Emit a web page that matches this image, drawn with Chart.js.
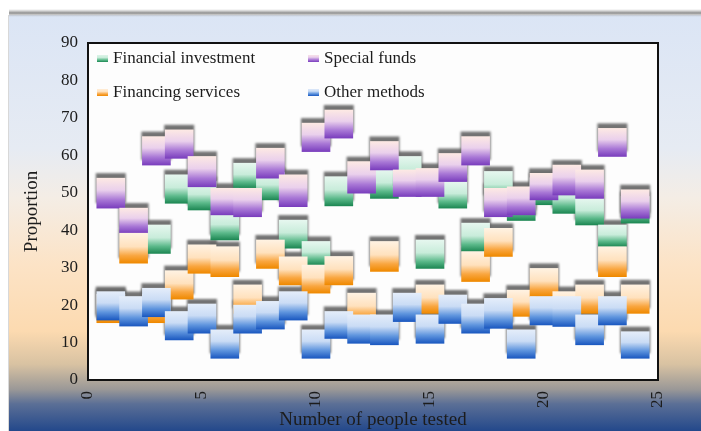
<!DOCTYPE html>
<html>
<head>
<meta charset="utf-8">
<script src="https://cdn.jsdelivr.net/npm/chart.js@4.4.1/dist/chart.umd.min.js"></script>
<style>
  html, body { margin: 0; padding: 0; background: #fff; }
</style>
</head>
<body>
<canvas id="myChart" width="701" height="431"></canvas>
<script>
// number of people tested (x positions of the boxes)
var peopleTested = [1, 2, 3, 4, 5, 6, 7, 8, 9, 10, 11, 12, 13, 14, 15, 16, 17, 18, 19, 20, 21, 22, 23, 24];

// each box is [low, high] proportion, null = no box at that point
var financialInvestment = [
    null, null, [33.8, 41.4], [47.2, 54.8], [45.4, 53.0], [37.4, 44.9],
    [51.2, 57.9], [48.1, 55.4], [35.2, 42.7], [30.7, 37.0], [46.5, 54.3], null,
    [48.5, 56.1], [52.0, 59.7], [29.8, 37.4], [45.9, 53.0], [34.3, 41.9], [48.0, 55.7],
    [42.6, 50.0], [46.8, 54.0], [44.5, 52.0], [41.4, 48.5], [35.6, 41.4], [41.9, 49.0]
];
var specialFunds = [
    [45.9, 53.9], [39.2, 45.9], [57.4, 65.0], [59.2, 66.8], [51.6, 59.7], [44.1, 51.2],
    [43.6, 51.2], [53.9, 61.9], [46.3, 54.8], [61.0, 68.6], [64.6, 72.1], [49.9, 58.3],
    [56.1, 63.7], [49.0, 56.1], [49.0, 56.5], [53.0, 60.5], [57.4, 65.0], [43.6, 51.2],
    [44.1, 51.6], [48.1, 55.2], [49.4, 57.4], [48.5, 56.1], [59.7, 67.2], [43.2, 50.8]
];
var financingServices = [
    [15.3, 22.9], [31.2, 39.2], [15.3, 22.9], [21.6, 29.2], [28.5, 36.1], [27.6, 35.6],
    [17.8, 25.4], [29.8, 37.4], [25.4, 32.9], [23.2, 30.7], [25.4, 33.0], [15.5, 23.2],
    [29.0, 37.0], null, [17.8, 25.4], null, [26.3, 34.3], [33.0, 40.5],
    [17.0, 24.0], [22.3, 29.8], [16.0, 23.6], [17.8, 25.4], [27.6, 35.6], [17.8, 25.4]
];
var otherMethods = [
    [16.0, 23.6], [14.4, 22.3], [16.9, 24.5], [10.7, 18.3], [12.5, 20.3], [5.8, 13.4],
    [12.5, 20.0], [13.6, 21.0], [16.0, 23.6], [5.8, 13.4], [11.1, 18.3], [9.8, 17.4],
    [9.4, 17.4], [15.6, 23.2], [9.8, 17.4], [15.1, 22.7], [12.5, 20.3], [13.8, 21.8],
    [5.8, 13.4], [14.7, 22.3], [14.3, 22.3], [9.4, 17.4], [14.7, 22.3], [5.8, 12.9]
];

var yTicks = [0, 10, 20, 30, 40, 50, 60, 70, 80, 90];
var xTicks = [0, 5, 10, 15, 20, 25];

// vertical colour ramps, pale at the top and saturated at the bottom
var greenStops  = [[0, '#e6f7ef'], [0.45, '#c8ecda'], [0.75, '#5bb98a'], [1, '#1d8753']];
var purpleStops = [[0, '#fde9e4'], [0.4, '#ead0ec'], [0.72, '#a978d6'], [1, '#7a3ebd']];
var orangeStops = [[0, '#fff2e2'], [0.45, '#ffe1bd'], [0.75, '#f9a640'], [1, '#ef8900']];
var blueStops   = [[0, '#e4edfa'], [0.4, '#cadcf5'], [0.72, '#5f95de'], [1, '#1b58c0']];

var serif = '"Liberation Serif", "Times New Roman", serif';
var textColor = '#1c1c1c';

function toPoints(values) {
    var pts = [];
    for (var i = 0; i < values.length; i++) {
        if (values[i] != null) pts.push({ x: peopleTested[i], y: values[i] });
    }
    return pts;
}

function boxFill(stops) {
    return function(c) {
        var chart = c.chart;
        var v = c.raw && c.raw.y;
        if (!chart.chartArea || !v) return stops[2][1];
        var top = chart.scales.y.getPixelForValue(Math.max(v[0], v[1]));
        var bot = chart.scales.y.getPixelForValue(Math.min(v[0], v[1]));
        var g = chart.ctx.createLinearGradient(0, top, 0, bot);
        stops.forEach(function(s) { g.addColorStop(s[0], s[1]); });
        return g;
    };
}

// page background, plot fill
var backdrop = {
    id: 'backdrop',
    beforeDraw: function(chart) {
        var ctx = chart.ctx, w = chart.width, h = chart.height, a = chart.chartArea;
        ctx.save();
        ctx.fillStyle = '#ffffff';
        ctx.fillRect(0, 0, w, h);
        var g = ctx.createLinearGradient(0, 15, 0, h);
        g.addColorStop(0, '#dbe5f5');
        g.addColorStop(0.32, '#e6ebf3');
        g.addColorStop(0.44, '#f4ede5');
        g.addColorStop(0.6, '#fce3c6');
        g.addColorStop(0.76, '#fcdab0');
        g.addColorStop(0.84, '#d8c2a2');
        g.addColorStop(0.9, '#9a9897');
        g.addColorStop(0.935, '#5b6f96');
        g.addColorStop(1, '#23488b');
        ctx.fillStyle = g;
        ctx.fillRect(9, 15, w - 9, h - 15);
        // soft grey edge along the top
        var t = ctx.createLinearGradient(0, 9, 0, 17);
        t.addColorStop(0, 'rgba(160,160,160,0)');
        t.addColorStop(0.5, 'rgba(130,130,130,0.9)');
        t.addColorStop(1, 'rgba(180,180,180,0)');
        ctx.fillStyle = t;
        ctx.fillRect(9, 9, w - 9, 8);
        ctx.fillStyle = 'rgba(190,190,190,0.6)';
        ctx.fillRect(8, 15, 1, h - 15);
        ctx.fillStyle = '#fdfdfd';
        ctx.fillRect(a.left, a.top, a.right - a.left, a.bottom - a.top);
        ctx.restore();
    }
};

// blurred grey shadow sitting just above every box
var boxShadows = {
    id: 'boxShadows',
    beforeDatasetsDraw: function(chart) {
        var ctx = chart.ctx;
        ctx.save();
        ctx.filter = 'blur(1.2px)';
        ctx.fillStyle = 'rgba(100,100,100,0.9)';
        chart.data.datasets.forEach(function(ds, i) {
            var meta = chart.getDatasetMeta(i);
            meta.data.forEach(function(bar) {
                var top = Math.min(bar.y, bar.base);
                var bot = Math.max(bar.y, bar.base);
                ctx.fillRect(bar.x - bar.width / 2 - 1, top - 5, bar.width + 2, bot - top);
            });
        });
        ctx.restore();
    }
};

// frame round the plot and the two-column key inside it
var frameAndKey = {
    id: 'frameAndKey',
    afterDatasetsDraw: function(chart) {
        var ctx = chart.ctx, a = chart.chartArea;
        ctx.save();
        ctx.strokeStyle = '#111';
        ctx.lineWidth = 2;
        ctx.strokeRect(a.left, a.top, a.right - a.left, a.bottom - a.top);

        ctx.font = '17px ' + serif;
        ctx.fillStyle = textColor;
        ctx.textBaseline = 'middle';
        var cols = [9, 220], rows = [15, 49];
        chart.data.datasets.forEach(function(ds, i) {
            var x = a.left + cols[i % 2];
            var y = a.top + rows[Math.floor(i / 2)];
            var g = ctx.createLinearGradient(0, y - 4, 0, y + 4);
            ds.keyStops.forEach(function(s) { g.addColorStop(s[0], s[1]); });
            ctx.fillStyle = g;
            ctx.fillRect(x, y - 3, 11, 7);
            ctx.fillStyle = textColor;
            ctx.fillText(ds.label, x + 16, y + 1);
        });
        ctx.restore();
    }
};

var ctx = document.getElementById('myChart');
var myChart = new Chart(ctx, {
    type: 'bar',
    data: {
        datasets: [
            { label: 'Financial investment', data: toPoints(financialInvestment), backgroundColor: boxFill(greenStops), keyStops: greenStops, order: 4 },
            { label: 'Special funds', data: toPoints(specialFunds), backgroundColor: boxFill(purpleStops), keyStops: purpleStops, order: 3 },
            { label: 'Financing services', data: toPoints(financingServices), backgroundColor: boxFill(orangeStops), keyStops: orangeStops, order: 2 },
            { label: 'Other methods', data: toPoints(otherMethods), backgroundColor: boxFill(blueStops), keyStops: blueStops, order: 1 }
        ]
    },
    options: {
        responsive: false,
        animation: false,
        layout: { padding: { left: 18, right: 43, top: 43, bottom: 0 } },
        datasets: { bar: { grouped: false, barThickness: 28, borderWidth: 0 } },
        plugins: { legend: { display: false }, tooltip: { enabled: false } },
        scales: {
            x: {
                type: 'linear',
                min: xTicks[0],
                max: xTicks[xTicks.length - 1],
                offset: false,
                grid: { display: false, drawTicks: false },
                border: { display: false },
                afterBuildTicks: function(s) { s.ticks = xTicks.map(function(v) { return { value: v }; }); },
                ticks: { minRotation: 90, maxRotation: 90, padding: 11, color: textColor, font: { family: serif, size: 17 } },
                title: { display: true, text: 'Number of people tested', color: textColor, font: { family: serif, size: 19 }, padding: { top: 0, bottom: 0 } },
                afterFit: function(s) { s.height = 51; }
            },
            y: {
                min: yTicks[0],
                max: yTicks[yTicks.length - 1],
                grid: { display: false, drawTicks: false },
                border: { display: false },
                afterBuildTicks: function(s) { s.ticks = yTicks.map(function(v) { return { value: v }; }); },
                ticks: { padding: 10, color: textColor, font: { family: serif, size: 17 } },
                title: { display: true, text: 'Proportion', color: textColor, font: { family: serif, size: 19 }, padding: { top: 3, bottom: 0 } },
                afterFit: function(s) { s.width = 70; }
            }
        }
    },
    plugins: [backdrop, boxShadows, frameAndKey]
});
</script>
</body>
</html>
